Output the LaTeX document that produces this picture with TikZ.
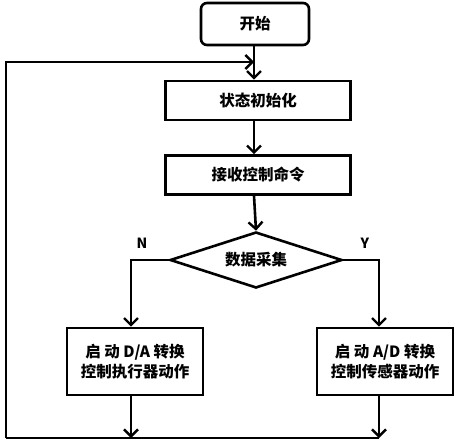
\documentclass[tikz,border=0pt]{standalone}
\usepackage{fontspec}
\setmainfont{Noto Sans CJK SC}
\usetikzlibrary{arrows.meta,shapes.geometric}
\tikzset{
  line/.style={line width=2.6pt},
  arr/.style={line, -{Straight Barb[length=7pt,width=14pt,line width=2.4pt]}},
  box/.style={line, draw, rectangle, minimum width=185pt, minimum height=39pt, font=\fontsize{15.5}{18}\selectfont\bfseries},
  sbox/.style={line, draw, rectangle, rounded corners=6pt, minimum width=108pt, minimum height=42pt, font=\fontsize{15.5}{18}\selectfont\bfseries},
  lbox/.style={line, draw, rectangle, minimum width=136pt, minimum height=67pt, align=center, font=\fontsize{15.5}{20}\selectfont\bfseries},
  dia/.style={line, draw, diamond, minimum width=172pt, minimum height=56pt, aspect=3.07, inner sep=0pt, font=\fontsize{15.5}{18}\selectfont\bfseries},
  lab/.style={font=\fontsize{14}{16}\selectfont\bfseries}
}
\begin{document}
\begin{tikzpicture}[x=1pt,y=-1pt]
\useasboundingbox (0,0) rectangle (460,442);
\node[sbox] (start) at (255,24) {开始};
\node[box] (init) at (258,100.5) {状态初始化};
\node[box] (recv) at (258,175) {接收控制命令};
\node[dia] (data) at (256,260) {数据采集};
\node[lbox] (left) at (135,361.5) {启 动 D/A 转换\\控制执行器动作};
\node[lbox] (right) at (385,361.5) {启 动 A/D 转换\\控制传感器动作};
\coordinate (nL) at (131,260);
\coordinate (yR) at (379,260);
\coordinate (bot) at (6,438);
\coordinate (top) at (6,62);
\coordinate (join) at (254,62);
\node[lab] (N) at (142,243) {N};
\node[lab] (Y) at (365,243) {Y};
\draw[arr] (start.south -| join) -- (join |- init.north);
\draw[arr] (bot) -- (top) -- (join);
\draw[arr] (init.south -| join) -- (join |- recv.north);
\draw[arr] (recv.south -| join) -- (data.north);
\draw[arr] (data.west) -- (nL) -- (nL |- left.north);
\draw[arr] (data.east) -- (yR) -- (yR |- right.north);
\draw[arr] (left.south -| nL) -- (nL |- bot);
\draw[arr] (right.south -| yR) -- (yR |- bot);
\draw[line] (yR |- bot) -- (bot);
\end{tikzpicture}
\end{document}
